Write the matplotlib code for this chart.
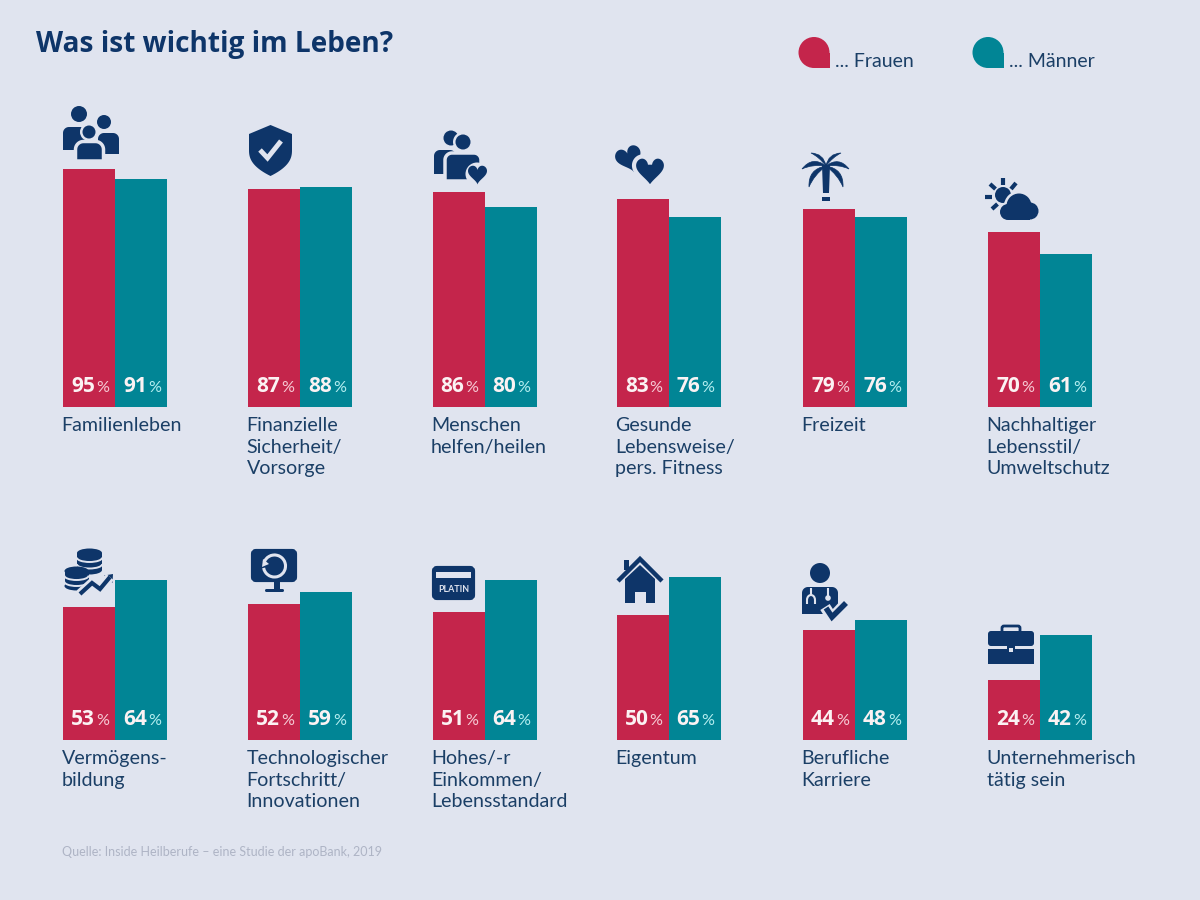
import numpy as np
import matplotlib
matplotlib.use("Agg")
import matplotlib.pyplot as plt
from matplotlib.patches import Circle, Rectangle, Polygon, Ellipse, FancyBboxPatch, PathPatch, Arc
from matplotlib.path import Path

# ---- data ----
title = "Was ist wichtig im Leben?"
source = "Quelle: Inside Heilberufe – eine Studie der apoBank, 2019"
legend_labels = ["... Frauen", "... Männer"]
top_labels = ["Familienleben", "Finanzielle\nSicherheit/\nVorsorge", "Menschen\nhelfen/heilen",
              "Gesunde\nLebensweise/\npers. Fitness", "Freizeit",
              "Nachhaltiger\nLebensstil/\nUmweltschutz"]
top_frauen = [95, 87, 86, 83, 79, 70]
top_maenner = [91, 88, 80, 76, 76, 61]
bot_labels = ["Vermögens-\nbildung", "Technologischer\nFortschritt/\nInnovationen",
              "Hohes/-r\nEinkommen/\nLebensstandard", "Eigentum", "Berufliche\nKarriere",
              "Unternehmerisch\ntätig sein"]
bot_frauen = [53, 52, 51, 50, 44, 24]
bot_maenner = [64, 59, 64, 65, 48, 42]
# the "52 %" bar of the original is drawn taller than its label says
bot_frauen_drawn = [53, 54.2, 51, 50, 44, 24]

# ---- layout and style ----
GROUP_X = [115, 300, 484.5, 668.5, 855, 1040]
W = 52
BG = "#E0E4EF"
PINK = "#C4254B"
TEAL = "#018595"
NAVY = "#0E3569"
TXT = "#1B3F66"
FONT = "Lato"

fig = plt.figure(figsize=(12, 9), dpi=100, facecolor=BG)


def row(bottom_px, labels, fr, ma, fr_drawn=None):
    ax = fig.add_axes([0, (900 - bottom_px) / 900, 1, 250.5 / 900])
    ax.set_xlim(0, 1200)
    ax.set_ylim(0, 100)
    ax.axis("off")
    x = np.array(GROUP_X, float)
    b1 = ax.bar(x - W / 2, fr if fr_drawn is None else fr_drawn, W, color=PINK)
    b2 = ax.bar(x + W / 2, ma, W, color=TEAL)
    for bars, vals, pc in ((b1, fr, "#F6CBD5"), (b2, ma, "#B5EEF0")):
        for r, v in zip(bars, vals):
            cx = r.get_x() + r.get_width() / 2
            ax.annotate(str(v), (cx, 0), xytext=(4.3, 11), textcoords="offset points",
                        ha="right", va="baseline", color="#FBF2F3", fontsize=15,
                        fontweight="bold", family="Open Sans", annotation_clip=False)
            ax.annotate("%", (cx, 0), xytext=(5, 11), textcoords="offset points",
                        ha="left", va="baseline", color=pc, fontsize=11.6,
                        family=FONT, annotation_clip=False)
    for i, lab in enumerate(labels):
        for j, line in enumerate(lab.split("\n")):
            ax.annotate(line, (x[i] - W, 0), xytext=(-1, -17.5 - j * 15.5),
                        textcoords="offset points", ha="left", va="baseline",
                        color=TXT, fontsize=14.1, family=FONT, annotation_clip=False)
    return ax


row(407, top_labels, top_frauen, top_maenner)
row(740, bot_labels, bot_frauen, bot_maenner, bot_frauen_drawn)

# ---- overlay in pixel units for title, legend and pictograms ----
ov = fig.add_axes([0, 0, 1, 1], zorder=5)
ov.set_xlim(0, 1200)
ov.set_ylim(900, 0)
ov.axis("off")


def circ(x, y, r, c=NAVY, **k):
    ov.add_patch(Circle((x, y), r, fc=c, ec="none", **k))


def rect(x0, y0, x1, y1, c=NAVY):
    ov.add_patch(Rectangle((x0, y0), x1 - x0, y1 - y0, fc=c, ec="none"))


def body(x0, y0, x1, y1, r, c=NAVY, ring=0):
    """Person torso: rounded on top, flat below."""
    a = np.linspace(np.pi, 1.5 * np.pi, 12)
    left = np.c_[x0 + r + r * np.cos(a), y0 + r + r * np.sin(a)]
    b = np.linspace(1.5 * np.pi, 2 * np.pi, 12)
    right = np.c_[x1 - r + r * np.cos(b), y0 + r + r * np.sin(b)]
    pts = np.vstack([[x0, y1], left, right, [x1, y1]])
    ov.add_patch(Polygon(pts, fc=c, ec=BG if ring else "none", lw=ring, joinstyle="round"))


def heart(cx, cy, w, c=NAVY, rot=0, ring=0, stretch=1.0):
    t = np.linspace(0, 2 * np.pi, 80)
    x = 16 * np.sin(t) ** 3
    y = -(13 * np.cos(t) - 5 * np.cos(2 * t) - 2 * np.cos(3 * t) - np.cos(4 * t)) * stretch
    s = w / 32
    x, y = x * s, y * s
    a = np.radians(rot)
    px = cx + x * np.cos(a) - y * np.sin(a)
    py = cy + x * np.sin(a) + y * np.cos(a)
    ov.add_patch(Polygon(np.c_[px, py], fc=c, ec=BG if ring else "none", lw=ring))


def line(pts, c=NAVY, lw=3, cap="butt", join="miter"):
    p = np.array(pts, float)
    ov.plot(p[:, 0], p[:, 1], color=c, lw=lw, solid_capstyle=cap, solid_joinstyle=join)


def leaf(base, tip, bulge):
    bx, by = base
    tx, ty = tip
    dx, dy = tx - bx, ty - by
    nx, ny = -dy, dx
    c1 = (bx + dx * .5 + nx * bulge, by + dy * .5 + ny * bulge)
    c2 = (bx + dx * .55 + nx * bulge * .3, by + dy * .55 + ny * bulge * .3)
    path = Path([base, c1, tip, c2, base], [Path.MOVETO, Path.CURVE3, Path.CURVE3, Path.CURVE3, Path.CURVE3])
    ov.add_patch(PathPatch(path, fc=NAVY, ec=NAVY, lw=.5))


def coins(cx, ytop, ybot, w, bands):
    h = 9
    rect(cx - w / 2, ytop, cx + w / 2, ybot, NAVY)
    ov.add_patch(Ellipse((cx, ytop), w, h, fc=NAVY, ec="none"))
    ov.add_patch(Ellipse((cx, ybot), w, h, fc=NAVY, ec="none"))
    for y in bands:
        ov.add_patch(Arc((cx, y), w + .5, h, theta1=0, theta2=180, color=BG, lw=1.4))


# title and legend
ov.text(36, 52, title, color=NAVY, fontsize=20.2, fontweight="bold", family="Open Sans", va="baseline")
for x0, col, lab in ((814, PINK, legend_labels[0]), (988, TEAL, legend_labels[1])):
    circ(x0, 52.5, 15.5, col)
    rect(x0, 52.5, x0 + 15.5, 68, col)
    ov.text(x0 + 21, 67, lab, color=TXT, fontsize=14, family=FONT, va="baseline")
ov.text(62, 856, source, color="#AEB4C5", fontsize=9, family=FONT, va="baseline")

# family
circ(79, 114, 8); circ(104, 122, 7)
body(63, 127, 88, 150, 6); body(98, 133, 119, 154, 6)
circ(89, 132, 9, BG); circ(89, 132, 6.5)
body(75.5, 141.5, 103.5, 161, 8, ring=2.5)

# shield
t = np.linspace(0, 1, 20)
sr = np.c_[292 - 21.5 * t ** 2.2, 150 + 26 * t ** .9]
sl = np.c_[249 + 21.5 * t[::-1] ** 2.2, 150 + 26 * t[::-1] ** .9]
ov.add_patch(Polygon(np.vstack([[[270.5, 125], [292, 134]], sr, sl, [[249, 134]]]), fc=NAVY, ec="none"))
line([(260, 150), (267.5, 158), (281, 141)], BG, 3.5)

# helping people
circ(451, 138, 7.5); circ(463, 142, 10, BG)
body(434, 150, 456, 174, 6)
body(445, 153, 481, 181, 7, ring=2.5)
circ(463, 142, 7.5)
circ(477, 174, 11.5, BG)
heart(477.5, 173.5, 19, stretch=1.1)

# hearts
heart(629, 158, 26, rot=-20, stretch=1.12)
heart(650, 170, 32, ring=3, stretch=1.13)

# palm
c0 = (826, 166)
for tip, b in (((802, 169), .5), ((849, 169), -.5), ((809, 187), .45), ((843, 187), -.45),
               ((811, 153), .4), ((841, 153), -.4)):
    leaf(c0, tip, b)
ov.add_patch(Polygon([(822, 165), (830, 165), (829, 193), (823, 193)], fc=NAVY, ec="none"))
rect(822, 197, 830, 201)

# sun and cloud
circ(1003, 195, 8)
line([(1003, 178), (1003, 185)]); line([(985, 197), (992, 197)])
line([(990, 184), (995.5, 189)]); line([(1016, 183), (1011, 189)]); line([(992, 209), (997.5, 204)])
for cx, cy, r in ((1019, 206, 15), (1030, 211, 11), (1008, 212, 10)):
    circ(cx, cy, r, BG)
for cx, cy, r in ((1019, 206, 12.5), (1030, 211, 8.5), (1008, 212, 8)):
    circ(cx, cy, r)
rect(1008, 208, 1030, 220)

# coins
coins(89.5, 553, 570, 25, (557.5, 564))
coins(76.5, 571, 586, 24, (575.5, 581.5))
line([(80, 594), (92, 583), (100, 589), (110, 577)], BG, 7)
line([(80, 594), (92, 583), (100, 589), (110, 577)], NAVY, 3)
ov.add_patch(Polygon([(113, 574), (112.5, 583), (104, 575.5)], fc=NAVY, ec="none"))

# monitor
ov.add_patch(FancyBboxPatch((253, 551), 42, 29, boxstyle="round,pad=0,rounding_size=3", fc=NAVY, ec=NAVY, lw=3))
rect(274, 582, 280, 590)
ov.add_patch(FancyBboxPatch((265, 589), 19, 3, boxstyle="round,pad=0,rounding_size=1.5", fc=NAVY, ec="none"))
ov.add_patch(Arc((274.5, 566), 22, 22, theta1=-160, theta2=170, color=BG, lw=2.2))
ov.add_patch(Polygon([(263, 559), (269, 564), (262, 567)], fc=BG, ec="none"))

# card
ov.add_patch(FancyBboxPatch((434, 568), 39, 30, boxstyle="round,pad=0,rounding_size=3", fc=NAVY, ec=NAVY, lw=3))
rect(436, 572, 471, 578, BG)
ov.text(453.5, 589.5, "PLATIN", color=BG, fontsize=6.4, fontweight="bold", family=FONT, ha="center", va="center")

# house
ov.add_patch(Polygon([(625, 579), (640, 565), (655, 579), (655, 603), (646, 603), (646, 592),
                      (635, 592), (635, 603), (625, 603)], fc=NAVY, ec="none"))
rect(624, 560, 629, 570)
line([(618, 581), (640, 559), (662, 581)], NAVY, 3.2)

# doctor
circ(820, 573, 10)
body(802, 587, 838, 614, 6)
ov.add_patch(Arc((811, 600), 8, 10, theta1=180, theta2=360, color=BG, lw=1.5))
line([(807, 600), (807, 604)], BG, 1.5); line([(815, 600), (815, 604)], BG, 1.5)
line([(811, 588), (811, 595)], BG, 1.5); line([(828, 588), (828, 596)], BG, 1.5)
circ(828, 598, 2.8, BG)
line([(825, 607), (832, 618), (847, 602)], BG, 8)
line([(826, 608), (832, 617), (846, 603)], NAVY, 4)

# briefcase
ov.add_patch(FancyBboxPatch((1002, 626), 18, 7, boxstyle="round,pad=0,rounding_size=2", fc="none", ec=NAVY, lw=2))
ov.add_patch(FancyBboxPatch((988, 631), 46, 15, boxstyle="round,pad=0,rounding_size=3", fc=NAVY, ec="none"))
rect(988, 649, 1034, 664)
rect(1007, 646, 1015, 654)
rect(1009, 648, 1013, 652, BG)

fig.savefig("out.png", dpi=100, facecolor=BG)
